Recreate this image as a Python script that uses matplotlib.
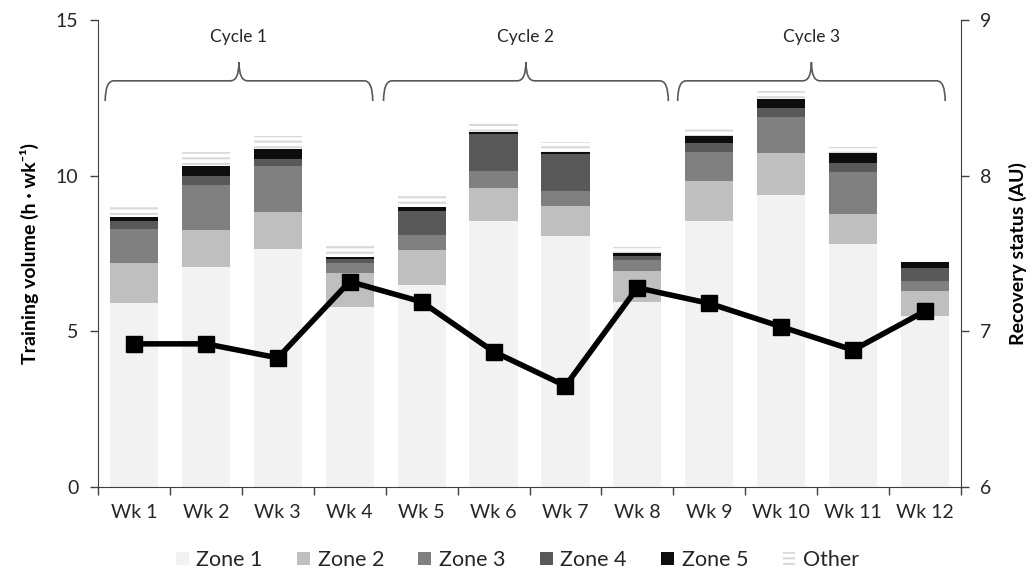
import numpy as np
import matplotlib
matplotlib.use("Agg")
from matplotlib import pyplot as plt
from matplotlib.path import Path
from matplotlib.patches import PathPatch

plt.rcParams['font.family'] = ['Lato', 'DejaVu Sans']
plt.rcParams['hatch.linewidth'] = 1.5

weeks = ['Wk 1', 'Wk 2', 'Wk 3', 'Wk 4', 'Wk 5', 'Wk 6',
         'Wk 7', 'Wk 8', 'Wk 9', 'Wk 10', 'Wk 11', 'Wk 12']
zone1 = [5.91, 7.07, 7.65, 5.78, 6.49, 8.54, 8.06, 5.94, 8.54, 9.38, 7.81, 5.49]
zone2 = [1.29, 1.19, 1.18, 1.09, 1.12, 1.07, 0.97, 1.00, 1.29, 1.35, 0.96, 0.81]
zone3 = [1.09, 1.44, 1.48, 0.33, 0.48, 0.54, 0.48, 0.35, 0.93, 1.16, 1.35, 0.32]
zone4 = [0.25, 0.29, 0.23, 0.12, 0.78, 1.19, 1.19, 0.13, 0.29, 0.28, 0.29, 0.41]
zone5 = [0.13, 0.32, 0.32, 0.07, 0.12, 0.06, 0.06, 0.10, 0.23, 0.29, 0.32, 0.20]
other = [0.33, 0.45, 0.42, 0.35, 0.36, 0.36, 0.32, 0.19, 0.32, 0.26, 0.19, 0.00]
recovery = [6.92, 6.92, 6.83, 7.32, 7.19, 6.87, 6.65, 7.28, 7.18, 7.03, 6.88, 7.13]

cycles = ['Cycle 1', 'Cycle 2', 'Cycle 3']
# brace extents in week units
cycle_spans = [(-0.40, 3.32), (3.47, 7.43), (7.56, 11.28)]

zone_names = ['Zone 1', 'Zone 2', 'Zone 3', 'Zone 4', 'Zone 5']
zone_colors = ['#f2f2f2', '#bfbfbf', '#808080', '#595959', '#0d0d0d']

txt = '#262626'
axc = '#404040'

fig = plt.figure(figsize=(10.35, 5.75), dpi=100)
ax = fig.add_axes([0.0947, 0.153, 0.8338, 0.812])
x = np.arange(len(weeks))
w = 0.67

bottom = np.zeros(len(weeks))
for vals, name, col in zip([zone1, zone2, zone3, zone4, zone5], zone_names, zone_colors):
    ax.bar(x, vals, w, bottom=bottom, color=col, label=name, lw=0)
    bottom += np.array(vals)
ax.bar(x, other, w, bottom=bottom, facecolor='white', edgecolor='#d9d9d9',
       hatch='---', lw=0, label='Other')

ax.set_xlim(-0.5, len(weeks) - 0.5)
ax.set_ylim(0, 15)
ax.set_yticks([0, 5, 10, 15])
ax.set_xticks(x)
ax.set_xticklabels(weeks)
ax.set_xticks(np.arange(-0.5, len(weeks)), minor=True)
ax.tick_params(axis='x', which='major', length=0, pad=12, labelsize=14, labelcolor=txt)
ax.tick_params(axis='x', which='minor', length=6, width=1, color=axc, direction='out')
ax.tick_params(axis='y', length=6, width=1, color=axc, labelsize=14, labelcolor=txt, pad=8)
ax.spines['top'].set_visible(False)
ax.spines['right'].set_visible(False)
for s in ['left', 'bottom']:
    ax.spines[s].set_color(axc)
ax.set_ylabel('Training volume (h · wk⁻¹)', fontsize=14, fontweight='bold',
              color='black', labelpad=12)


# curly brace: ends at yb, bar at yh, middle tip at yt
def brace(ax, x0, x1, yb, yh, yt):
    xm = (x0 + x1) / 2
    r = 0.12
    verts = [(x0, yb), (x0, yh), (x0 + r, yh),
             (xm - r, yh), (xm, yh), (xm, yt),
             (xm, yh), (xm + r, yh),
             (x1 - r, yh), (x1, yh), (x1, yb)]
    codes = [Path.MOVETO, Path.CURVE3, Path.CURVE3,
             Path.LINETO, Path.CURVE3, Path.CURVE3,
             Path.CURVE3, Path.CURVE3,
             Path.LINETO, Path.CURVE3, Path.CURVE3]
    ax.add_patch(PathPatch(Path(verts, codes), fill=False, ec='#595959', lw=1.2,
                           clip_on=False, zorder=5))
    return xm


for name, (a, b) in zip(cycles, cycle_spans):
    xm = brace(ax, a, b, 12.4, 13.05, 13.65)
    ax.text(xm, 14.45, name, ha='center', va='center', fontsize=12.5, color=txt)

ax2 = ax.twinx()
ax2.plot(x, recovery, color='black', lw=4, marker='s', markersize=12, zorder=6)
ax2.set_ylim(6, 9)
ax2.set_yticks([6, 7, 8, 9])
ax2.tick_params(axis='y', length=6, width=1, color=axc, labelsize=14, labelcolor=txt, pad=8)
ax2.spines['top'].set_visible(False)
ax2.spines['left'].set_visible(False)
ax2.spines['bottom'].set_visible(False)
ax2.spines['right'].set_color(axc)
ax2.set_ylabel('Recovery status (AU)', fontsize=14, fontweight='bold',
               color='black', labelpad=12)

handles, labels = ax.get_legend_handles_labels()
fig.legend(handles, labels, loc='lower center', bbox_to_anchor=(0.5, -0.025), ncol=6,
           frameon=False, fontsize=15.5, handlelength=0.6, handleheight=0.6,
           handletextpad=0.35, columnspacing=1.6, labelcolor=txt)

fig.savefig('out.png', dpi=100)
